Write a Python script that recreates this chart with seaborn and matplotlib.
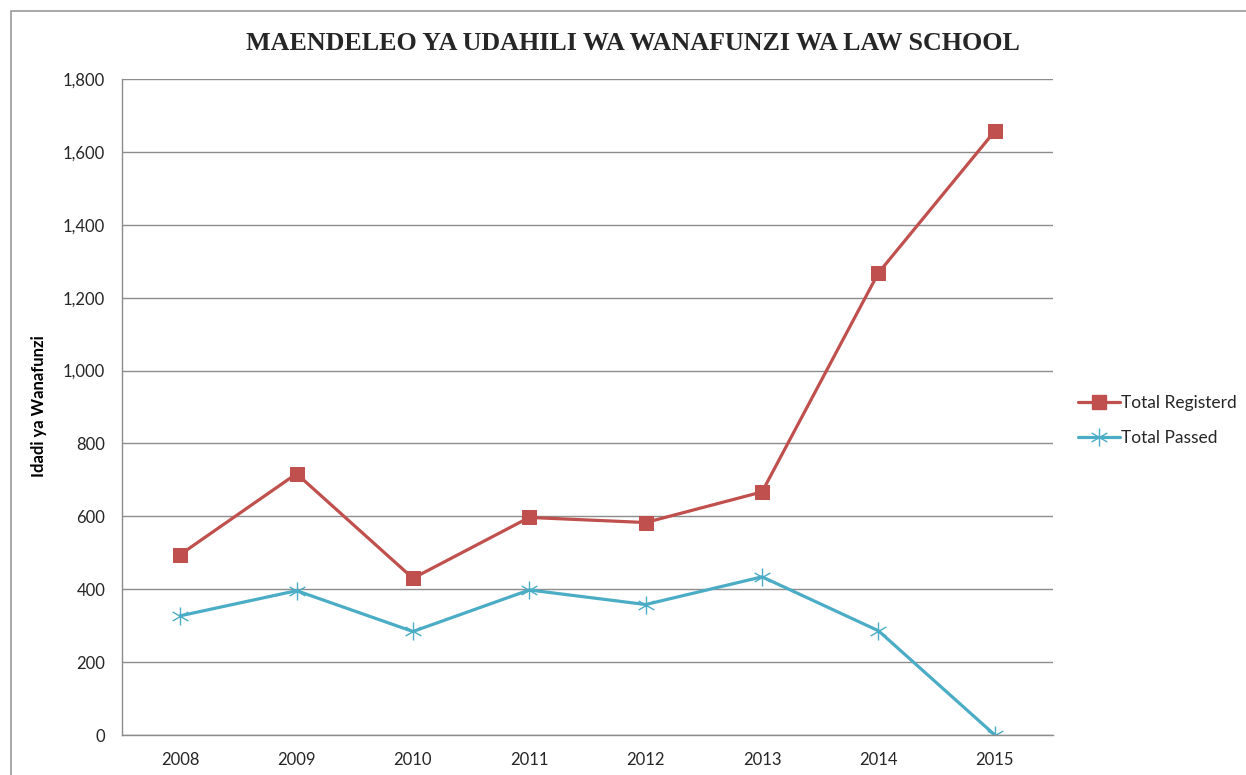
import numpy as np
import pandas as pd
import matplotlib
matplotlib.use("Agg")
import matplotlib.pyplot as plt
import seaborn as sns
from matplotlib.path import Path
from matplotlib.lines import Line2D
from matplotlib.patches import Rectangle
from matplotlib.ticker import FuncFormatter

years = [2008, 2009, 2010, 2011, 2012, 2013, 2014, 2015]
total_registered = [495, 717, 430, 597, 583, 667, 1268, 1657]
total_passed = [327, 396, 284, 398, 358, 434, 286, 0]
series_names = ["Total Registerd", "Total Passed"]
title = "MAENDELEO YA UDAHILI WA WANAFUNZI WA LAW SCHOOL"
ylabel = "Idadi ya Wanafunzi"

sns.set_theme(style="white")
plt.rcParams['font.family'] = ['Lato', 'DejaVu Sans']

W, H = 1246, 775
fig = plt.figure(figsize=(W / 100, H / 100), dpi=100)
ax = fig.add_axes([122 / W, 1 - 735 / H, (1053 - 122) / W, (735 - 79) / H])

red = "#C0504D"
teal = "#4BACC6"

star = Path(
    [(0, -1), (0, 1), (-0.87, -0.5), (0.87, 0.5), (-0.87, 0.5), (0.87, -0.5)],
    [Path.MOVETO, Path.LINETO, Path.MOVETO, Path.LINETO, Path.MOVETO, Path.LINETO],
)

df = pd.DataFrame({"year": years, "reg": total_registered, "pas": total_passed})
sns.lineplot(data=df, x="year", y="reg", ax=ax, color=red, linewidth=2.3,
             marker="s", markersize=10, markeredgecolor=red, markerfacecolor=red)
sns.lineplot(data=df, x="year", y="pas", ax=ax, color=teal, linewidth=2.3,
             marker=star, markersize=13, markeredgecolor=teal, markeredgewidth=1.0)

ax.set_xlim(years[0] - 0.5, years[-1] + 0.5)
ax.set_ylim(0, 1800)
ax.set_yticks(np.arange(0, 1801, 200))
ax.set_xticks(years)
ax.set_xticklabels([str(y) for y in years])
ax.yaxis.set_major_formatter(FuncFormatter(lambda v, p: f"{int(v):,}"))
ax.grid(axis="y", color="#8c8c8c", linewidth=1.0)
ax.grid(axis="x", visible=False)
ax.set_axisbelow(True)
for s in ["top", "right"]:
    ax.spines[s].set_visible(False)
for s in ["left", "bottom"]:
    ax.spines[s].set_color("#8c8c8c")
    ax.spines[s].set_linewidth(1.0)
ax.tick_params(axis="both", length=0, labelsize=12, colors="#262626", pad=12)
ax.set_xlabel("")
ax.set_ylabel(ylabel, fontsize=12, fontweight="bold", color="#000000")
ax.yaxis.set_label_coords((47 - 122) / (1053 - 122), (735 - 406) / (735 - 79))

fig.text(633 / W, 1 - 44 / H, title, ha="center", va="center",
         fontsize=18.7, fontweight="bold", family=["Liberation Serif", "DejaVu Serif"])

handles = [
    Line2D([], [], color=red, linewidth=2.3, marker="s", markersize=10),
    Line2D([], [], color=teal, linewidth=2.3, marker=star, markersize=13, markeredgewidth=1.0),
]
fig.legend(handles, series_names, loc="upper left", bbox_to_anchor=(1078 / W, 1 - 395 / H),
           frameon=False, fontsize=12.5, handlelength=2.4, handletextpad=0.1,
           labelspacing=1.1, borderaxespad=0, borderpad=0)

fig.patches.append(Rectangle((11 / W, -0.1), 1.2, 1.1 - 11 / H, transform=fig.transFigure,
                             fill=False, edgecolor="#9a9a9a", linewidth=1.2))

fig.savefig("out.png", dpi=100)
